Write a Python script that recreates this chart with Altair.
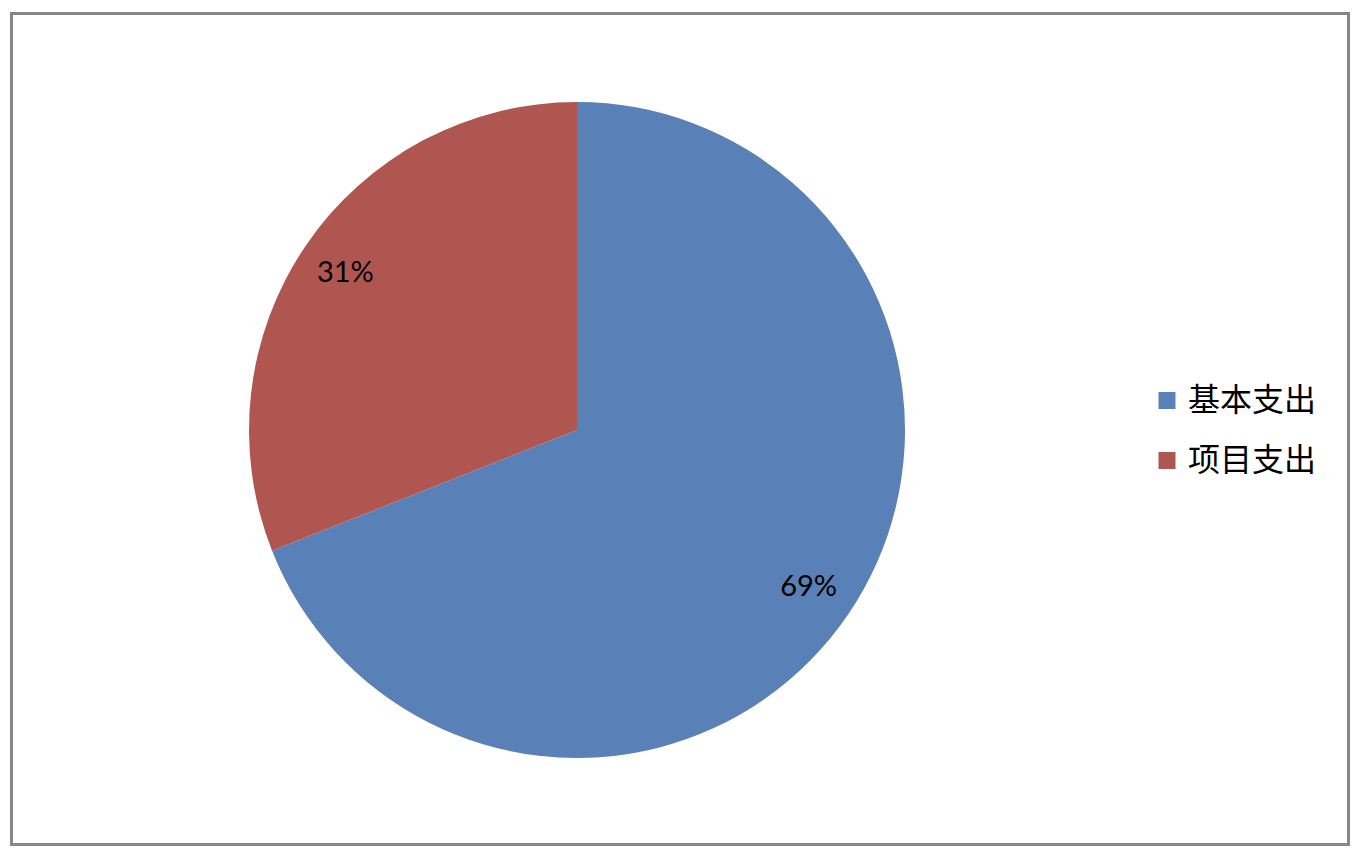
import altair as alt
import pandas as pd

categories = ["基本支出", "项目支出"]
values = [69, 31]
labels = ["69%", "31%"]
colors = ["#5A80B8", "#B05651"]

df = pd.DataFrame({"category": categories, "value": values, "label": labels,
                   "order": [0, 1]})

cx, cy, r = 565.5, 416.5, 328

base = alt.Chart(df).encode(
    theta=alt.Theta("value:Q", stack=True),
    order=alt.Order("order:Q"),
)

pie = base.mark_arc(radius=r).encode(
    x=alt.value(cx), y=alt.value(cy),
    color=alt.Color(
        "category:N",
        scale=alt.Scale(domain=categories, range=colors),
        sort=categories,
        legend=alt.Legend(
            title=None, orient="none", legendX=1139.5, legendY=371,
            symbolType="square", symbolSize=289, symbolStrokeWidth=0,
            labelFont="Noto Sans CJK SC", labelFontSize=32, labelColor="#000000",
            labelOffset=5, rowPadding=28, labelLimit=400,
        ),
    ),
)

text = base.mark_text(radius=280, font="Lato", fontSize=29, color="#000000",
                      baseline="middle", align="center").encode(
    x=alt.value(cx), y=alt.value(cy), text="label:N"
)

chart = (pie + text).properties(
    width=1337, height=831,
    padding={"left": 3.5, "top": 5.5, "right": 1.5, "bottom": 4},
    autosize=alt.AutoSizeParams(type="none"),
    background="#ffffff",
).configure_view(stroke="#878787", strokeWidth=3)

chart.save("out.html", embed_options={"renderer": "svg", "actions": False})
